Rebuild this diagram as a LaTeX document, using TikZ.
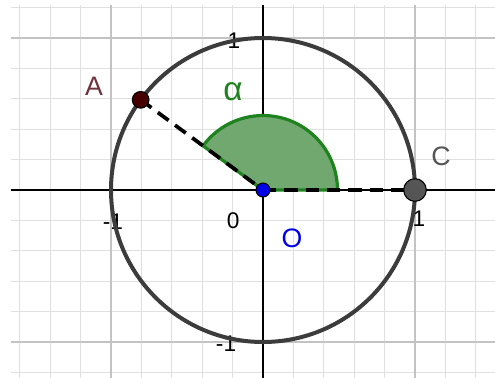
\documentclass[tikz,border=0pt]{standalone}
\usepackage{fontspec}
\setmainfont{Liberation Sans}
\definecolor{gridminor}{RGB}{224,224,224}
\definecolor{gridmajor}{RGB}{195,195,195}
\definecolor{circlegray}{RGB}{60,60,60}
\definecolor{anglegreen}{RGB}{30,130,30}
\definecolor{anglefill}{RGB}{112,168,112}
\definecolor{pointA}{RGB}{70,0,0}
\definecolor{labelA}{RGB}{110,50,60}
\definecolor{pointC}{RGB}{85,85,85}
\definecolor{pointO}{RGB}{0,0,230}
\tikzset{
  tick/.style={font=\fontsize{17}{20}\selectfont, inner sep=0pt},
  ptlabel/.style={font=\fontsize{20}{24}\selectfont, inner sep=0pt},
  dot/.style={circle, draw=black, line width=0.8pt, inner sep=0pt},
  seg/.style={line width=2.8pt, dash pattern=on 10pt off 6pt}
}
\begin{document}
\begin{tikzpicture}[x=114pt, y=114pt]
        \useasboundingbox (-1.7303,-1.2368) rectangle (1.5263,1.25);
        \fill[white] (-1.7303,-1.2368) rectangle (1.5263,1.25);

        % Mřížka
        \foreach \x in {-1.6,-1.4,...,1.5}
            \draw[gridminor, line width=1pt] (\x,-1.2368) -- (\x,1.217);
        \foreach \y in {-1.2,-1.0,...,1.25}
            \draw[gridminor, line width=1pt] (-1.658,\y) -- (1.5263,\y);
        \foreach \t in {-1,1} {
            \draw[gridmajor, line width=1.2pt] (\t,-1.2368) -- (\t,1.217);
            \draw[gridmajor, line width=1.2pt] (-1.658,\t) -- (1.5263,\t);
        }

        % Osy
        \draw[black, line width=1.4pt] (-1.658,0) -- (1.5263,0);
        \draw[black, line width=1.4pt] (0,-1.2368) -- (0,1.217);

        % Popisky os
        \node[tick] (xm1) at (-0.987,-0.211) {-1};
        \node[tick] (x0) at (-0.197,-0.204) {0};
        \node[tick] (x1) at (1.026,-0.191) {1};
        \node[tick] (y1) at (-0.191,0.98) {1};
        \node[tick] (ym1) at (-0.243,-1.013) {-1};

        % Jednotková kružnice
        \draw[circlegray, line width=3pt] (0,0) circle (1);

        \coordinate (O) at (0,0);
        \coordinate (A) at (143.6:1);
        \coordinate (C) at (1,0);

        % Úhel alfa
        \filldraw[fill=anglefill, draw=anglegreen, line width=2.4pt]
            (O) -- (0.49,0) arc (0:143.6:0.49) -- cycle;
        \node[ptlabel, anglegreen, font=\fontsize{25}{30}\selectfont] (alpha) at (-0.197,0.645) {α};

        % Úsečky
        \draw[seg] (A) -- (O);
        \draw[seg] (O) -- (C);

        % Body
        \node[dot, fill=pointA, minimum size=12.5pt] (a) at (A) {};
        \node[dot, fill=pointC, minimum size=17pt] (c) at (C) {};
        \node[dot, fill=pointO, minimum size=10.5pt] (o) at (O) {};

        \node[ptlabel, labelA] (la) at (-1.112,0.684) {A};
        \node[ptlabel, pointC] (lc) at (1.171,0.224) {C};
        \node[ptlabel, pointO] (lo) at (0.191,-0.316) {O};
\end{tikzpicture}
\end{document}
